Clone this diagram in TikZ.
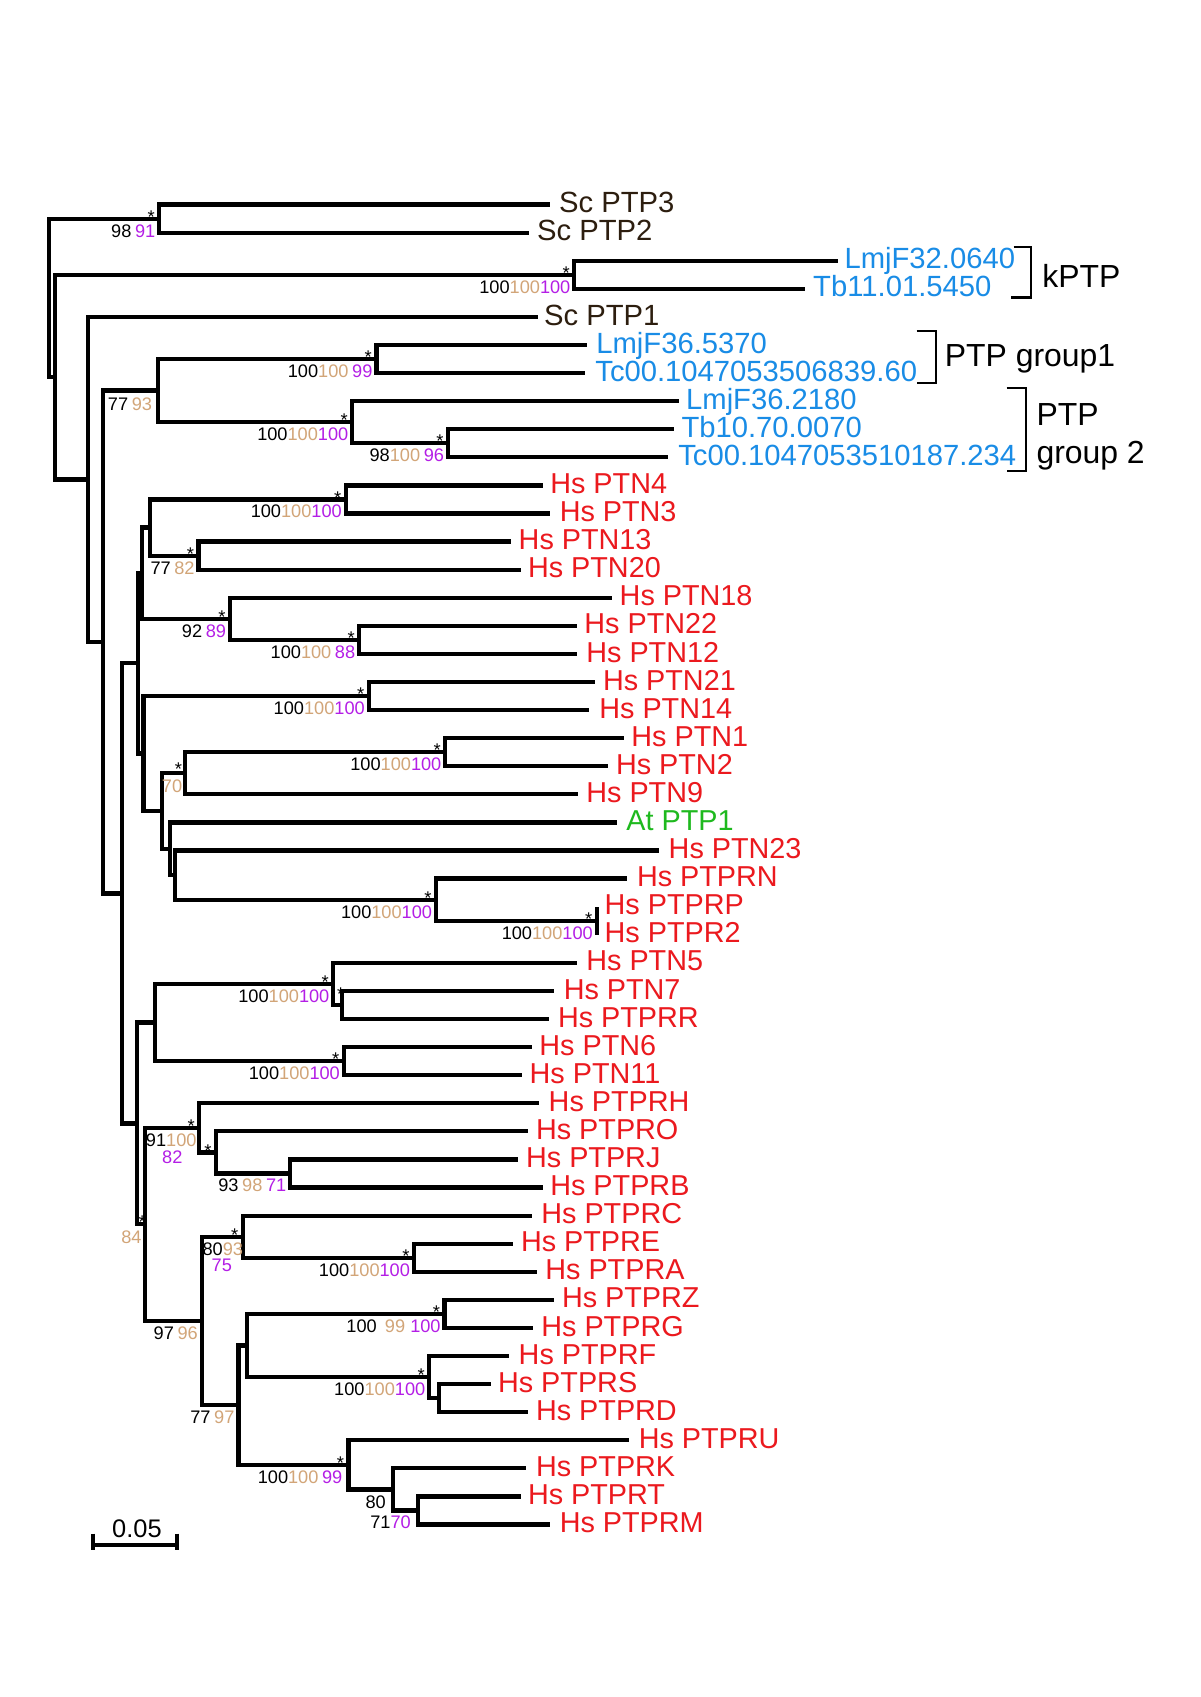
\documentclass[tikz,border=0pt]{standalone}
\usepackage{fontspec}
\setmainfont{Liberation Sans}
\definecolor{scbrown}{RGB}{45,30,15}
\definecolor{tpblue}{RGB}{25,140,230}
\definecolor{hsred}{RGB}{235,25,30}
\definecolor{atgreen}{RGB}{30,185,30}
\definecolor{bstan}{RGB}{210,165,120}
\definecolor{bspurp}{RGB}{180,30,230}
\newcommand\bsT[1]{\textcolor{bstan}{#1}}
\newcommand\bsP[1]{\textcolor{bspurp}{#1}}
\newcommand\bsgap{\hspace{.2em}}
\newcommand\BSlab[2]{\node[bsn] (b#1) at ([shift={(-3.5,17)}]#1) {#2};}
\newcommand\STlab[1]{\node[stn] (s#1) at ([shift={(-7.5,4.3)}]#1) {*};}
\begin{document}
\begin{tikzpicture}[x=1pt,y=-1pt,
  br/.style={line width=3.9pt, black},
  bk/.style={line width=2.2pt, black},
  leaf/.style={anchor=base west, inner sep=0pt, font=\fontsize{26.6}{26.6}\selectfont},
  bleaf/.style={anchor=base west, inner sep=0pt, font=\fontsize{27}{27}\selectfont},
  bsn/.style={anchor=base east, inner sep=0pt, font=\fontsize{16.8}{16.8}\selectfont},
  stn/.style={anchor=base, inner sep=0pt, font=\fontsize{17}{17}\selectfont},
  grp/.style={anchor=base west, inner sep=0pt, font=\fontsize{29.5}{29.5}\selectfont}]
\fill[white] (0,0) rectangle (1109,1568);
\useasboundingbox (0,0) rectangle (1109,1568);

% leaves
\foreach \i/\tp/\tx/\col/\sty/\txt in {
 0/508.4/517.9/scbrown/bleaf/Sc PTP3,
 1/489.0/497.6/scbrown/bleaf/Sc PTP2,
 2/774.3/781.6/tpblue/bleaf/LmjF32.0640,
 3/743.7/752.7/tpblue/bleaf/Tb11.01.5450,
 4/496.8/504.1/scbrown/bleaf/Sc PTP1,
 5/542.8/552.3/tpblue/bleaf/LmjF36.5370,
 6/540.7/551.4/tpblue/bleaf/Tc00.1047053506839.60,
 7/627.6/635.3/tpblue/bleaf/LmjF36.2180,
 8/622.4/631.0/tpblue/bleaf/Tb10.70.0070,
 9/617.2/628.0/tpblue/bleaf/Tc00.1047053510187.234,
 10/501.5/509.8/hsred/leaf/Hs PTN4,
 11/508.3/518.5/hsred/leaf/Hs PTN3,
 12/472.3/480.6/hsred/leaf/Hs PTN13,
 13/481.2/489.2/hsred/leaf/Hs PTN20,
 14/565.9/573.9/hsred/leaf/Hs PTN18,
 15/532.9/541.3/hsred/leaf/Hs PTN22,
 16/532.9/543.1/hsred/leaf/Hs PTN12,
 17/549.9/558.5/hsred/leaf/Hs PTN21,
 18/544.6/555.1/hsred/leaf/Hs PTN14,
 19/576.1/584.7/hsred/leaf/Hs PTN1,
 20/562.2/570.5/hsred/leaf/Hs PTN2,
 21/534.5/543.1/hsred/leaf/Hs PTN9,
 22/570.5/580.1/atgreen/leaf/At PTP1,
 23/609.0/619.2/hsred/leaf/Hs PTN23,
 24/579.1/589.9/hsred/leaf/Hs PTPRN,
 25/551.4/560.0/hsred/leaf/Hs PTPRP,
 26/551.4/560.0/hsred/leaf/Hs PTPR2,
 27/532.9/543.1/hsred/leaf/Hs PTN5,
 28/512.0/522.2/hsred/leaf/Hs PTN7,
 29/506.8/516.9/hsred/leaf/Hs PTPRR,
 30/491.4/499.7/hsred/leaf/Hs PTN6,
 31/482.1/490.7/hsred/leaf/Hs PTN11,
 32/498.4/508.3/hsred/leaf/Hs PTPRH,
 33/487.7/496.6/hsred/leaf/Hs PTPRO,
 34/479.0/487.4/hsred/leaf/Hs PTPRJ,
 35/501.5/509.8/hsred/leaf/Hs PTPRB,
 36/491.4/501.5/hsred/leaf/Hs PTPRC,
 37/473.8/482.7/hsred/leaf/Hs PTPRE,
 38/496.6/505.2/hsred/leaf/Hs PTPRA,
 39/512.0/520.6/hsred/leaf/Hs PTPRZ,
 40/492.9/501.5/hsred/leaf/Hs PTPRG,
 41/470.7/480.6/hsred/leaf/Hs PTPRF,
 42/453.5/461.5/hsred/leaf/Hs PTPRS,
 43/487.7/496.6/hsred/leaf/Hs PTPRD,
 44/581.6/591.5/hsred/leaf/Hs PTPRU,
 45/486.1/496.6/hsred/leaf/Hs PTPRK,
 46/481.2/489.2/hsred/leaf/Hs PTPRT,
 47/508.3/518.5/hsred/leaf/Hs PTPRM}
{
  \coordinate (t\i) at (\tp, 189+25.95*\i);
  \node[\sty, text=\col] (l\i) at (\tx-1.5, 196.5+25.95*\i) {\txt};
}

% internal nodes
\coordinate (n0) at (45.4, 275.2);
\coordinate (nSc) at (147.2, 202.0);
\coordinate (n2) at (50.8, 348.5);
\coordinate (nK) at (530.7, 253.9);
\coordinate (n3) at (81.6, 443.0);
\coordinate (n4) at (95.5, 593.2);
\coordinate (n5) at (145.7, 360.9);
\coordinate (n6) at (347.8, 331.7);
\coordinate (n7) at (325.5, 390.1);
\coordinate (n8) at (414.0, 409.6);
\coordinate (n9) at (112.4, 825.5);
\coordinate (n10) at (127.8, 612.9);
\coordinate (n11) at (131.5, 529.6);
\coordinate (n12) at (138.6, 487.4);
\coordinate (nA) at (319.5, 461.5);
\coordinate (nB) at (183.5, 513.4);
\coordinate (nC) at (212.5, 571.8);
\coordinate (nD) at (331.9, 591.2);
\coordinate (n13) at (132.5, 696.2);
\coordinate (nE) at (340.7, 643.1);
\coordinate (n14) at (149.4, 749.4);
\coordinate (nF) at (171.0, 714.5);
\coordinate (nG) at (411.5, 695.0);
\coordinate (n15) at (157.1, 784.2);
\coordinate (n16) at (161.7, 808.6);
\coordinate (nH) at (402.9, 831.3);
\coordinate (nI) at (551.4, 850.7);
\coordinate (n17) at (126.3, 1038.1);
\coordinate (n18) at (143.2, 944.8);
\coordinate (nJ) at (308.0, 909.1);
\coordinate (nJJ) at (315.8, 928.6);
\coordinate (nL) at (317.7, 980.5);
\coordinate (n19) at (134.0, 1131.3);
\coordinate (n20) at (184.2, 1042.1);
\coordinate (n21) at (199.6, 1064.8);
\coordinate (nM) at (268.2, 1084.3);
\coordinate (n22) at (186.4, 1220.5);
\coordinate (n23) at (224.3, 1142.7);
\coordinate (nN) at (382.5, 1162.1);
\coordinate (n24) at (220.3, 1298.4);
\coordinate (n25) at (228.0, 1243.2);
\coordinate (nO) at (410.8, 1214.0);
\coordinate (nP) at (396.6, 1272.4);
\coordinate (nQ) at (405.5, 1291.9);
\coordinate (nR) at (322.0, 1353.5);
\coordinate (nS) at (363.0, 1376.2);
\coordinate (nT) at (386.0, 1395.7);

% branches
\foreach \p/\c in {n0/nSc, n0/n2, nSc/t0, nSc/t1, n2/nK, n2/n3, nK/t2, nK/t3,
  n3/t4, n3/n4, n4/n5, n4/n9, n5/n6, n5/n7, n6/t5, n6/t6, n7/t7, n7/n8, n8/t8, n8/t9,
  n9/n10, n9/n17, n10/n11, n10/n13, n11/n12, n11/nC, n12/nA, n12/nB,
  nA/t10, nA/t11, nB/t12, nB/t13, nC/t14, nC/nD, nD/t15, nD/t16,
  n13/nE, n13/n14, nE/t17, nE/t18, n14/nF, n14/n15, nF/nG, nF/t21, nG/t19, nG/t20,
  n15/t22, n15/n16, n16/t23, n16/nH, nH/t24, nH/nI,
  n17/n18, n17/n19, n18/nJ, n18/nL, nJ/t27, nJ/nJJ, nJJ/t28, nJJ/t29, nL/t30, nL/t31,
  n19/n20, n19/n22, n20/t32, n20/n21, n21/t33, n21/nM, nM/t34, nM/t35,
  n22/n23, n22/n24, n23/t36, n23/nN, nN/t37, nN/t38,
  n24/n25, n24/nR, n25/nO, n25/nP, nO/t39, nO/t40, nP/t41, nP/nQ, nQ/t42, nQ/t43,
  nR/t44, nR/nS, nS/t45, nS/nT, nT/t46, nT/t47}
  \draw[br] (\p) |- (\c);
\draw[br] (nI) -- (t25);
\draw[br] (nI) -- (t26);

% bootstrap values
\BSlab{nSc}{98\bsgap\bsP{91}}
\STlab{nSc}
\BSlab{nK}{100\bsT{100}\bsP{100}}
\STlab{nK}
\node[bsn] (bn5) at ([shift={(-5,18.5)}]n5) {77\bsgap\bsT{93}};
\BSlab{n6}{100\bsT{100}\bsgap\bsP{99}}
\STlab{n6}
\BSlab{n7}{100\bsT{100}\bsP{100}}
\STlab{n7}
\BSlab{n8}{98\bsT{100}\bsgap\bsP{96}}
\STlab{n8}
\BSlab{nA}{100\bsT{100}\bsP{100}}
\STlab{nA}
\BSlab{nB}{77\bsgap\bsT{82}}
\STlab{nB}
\BSlab{nC}{92\bsgap\bsP{89}}
\STlab{nC}
\BSlab{nD}{100\bsT{100}\bsgap\bsP{88}}
\STlab{nD}
\BSlab{nE}{100\bsT{100}\bsP{100}}
\STlab{nE}
\BSlab{nG}{100\bsT{100}\bsP{100}}
\STlab{nG}
\node[bsn] (bnF) at ([shift={(-2.5,18)}]nF) {\bsT{70}};
\node[stn] (snF) at ([shift={(-6,2.3)}]nF) {*};
\BSlab{nH}{100\bsT{100}\bsP{100}}
\STlab{nH}
\BSlab{nI}{100\bsT{100}\bsP{100}}
\STlab{nI}
\BSlab{nJ}{100\bsT{100}\bsP{100}}
\STlab{nJ}
\node[stn] (snJJ) at ([shift={(-1,-4.5)}]nJJ) {*};
\BSlab{nL}{100\bsT{100}\bsP{100}}
\STlab{nL}
\node[bsn] (bn20) at ([shift={(-2.4,17.5)}]n20) {91\bsT{100}};
\node[bsn, anchor=base] (bn20b) at ([shift={(-25,33)}]n20) {\bsP{82}};
\STlab{n20}
\STlab{n21}
\BSlab{nM}{93\bsgap\bsT{98}\bsgap\bsP{71}}
\node[bsn] (bn19) at ([shift={(-3,17.7)}]n19) {\bsT{84}};
\node[stn] (sn19) at ([shift={(-2.5,3.5)}]n19) {*};
\node[bsn] (bn23) at ([shift={(0.5,17)}]n23) {80\bsT{93}};
\node[bsn, anchor=base] (bn23b) at ([shift={(-19.4,32.4)}]n23) {\bsP{75}};
\STlab{n23}
\BSlab{nN}{100\bsT{100}\bsP{100}}
\STlab{nN}
\BSlab{n22}{97\bsgap\bsT{96}}
\BSlab{nO}{100\hspace{.45em}\bsT{99}\hspace{.28em}\bsP{100}}
\STlab{nO}
\BSlab{nP}{100\bsT{100}\bsP{100}}
\STlab{nP}
\BSlab{n24}{77\bsgap\bsT{97}}
\node[bsn] (bnR) at ([shift={(-5.5,17.3)}]nR) {100\bsT{100}\bsgap\bsP{99}};
\STlab{nR}
\node[bsn] (bnS) at ([shift={(-6.3,17.7)}]nS) {80};
\node[bsn] (bnT) at ([shift={(-6.3,16.7)}]nT) {71\bsP{70}};

% brackets and group labels
\draw[bk] (936.5,228) -- (952.8,228) -- (952.8,274.8) -- (934.3,274.8);
\draw[bk] (847,305.9) -- (864.6,305.9) -- (864.6,353.6) -- (847,353.6);
\draw[bk] (930,358.3) -- (948.1,358.3) -- (948.1,435.3) -- (930,435.3);
\node[grp] (gk) at (963,265.8) {kPTP};
\node[grp] (g1) at (872.8,338.6) {PTP group1};
\node[grp] (g2a) at (957.5,392.8) {PTP};
\node[grp] (g2b) at (957.5,428.4) {group 2};

% scale bar
\coordinate (sbL) at (86.1,1427.8);
\coordinate (sbR) at (163.9,1427.8);
\draw[br] (sbL) -- (sbR);
\draw[br] (86.1,1417) -- (86.1,1432.5);
\draw[br] (163.9,1417) -- (163.9,1432.5);
\node[anchor=base, inner sep=0pt, font=\fontsize{23.5}{23.5}\selectfont] (sbt) at (126.5,1421) {0.05};
\end{tikzpicture}
\end{document}
